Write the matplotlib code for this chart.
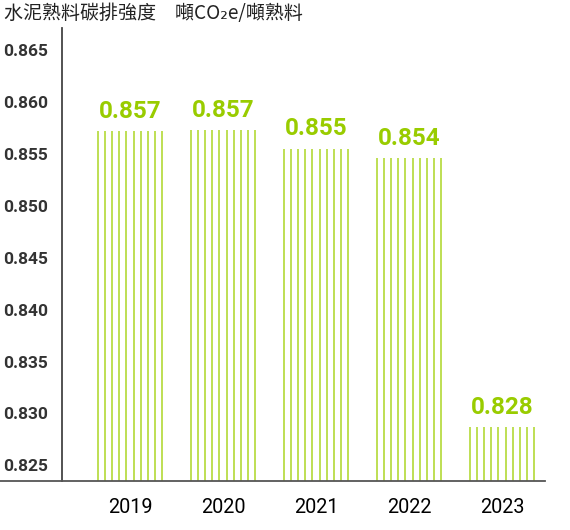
import numpy as np
import matplotlib.pyplot as plt
from matplotlib.lines import Line2D

years = ['2019', '2020', '2021', '2022', '2023']
bar_top = [0.8572, 0.8573, 0.8555, 0.8546, 0.8287]
label_text = ['0.857', '0.857', '0.855', '0.854', '0.828']
yticks = [0.825, 0.830, 0.835, 0.840, 0.845, 0.850, 0.855, 0.860, 0.865]

line_green = '#b9dc45'
text_green = '#99cc00'
dark = '#333333'

fig = plt.figure(figsize=(5.7, 5.3), dpi=100)
ax = fig.add_axes([62/570, 49/530, 483/570, 453/530])

ybase = 0.8235
n_lines = 10
bar_w = 0.69
x = np.arange(len(years))
for i, v in enumerate(bar_top):
    xs = np.linspace(x[i] - bar_w/2, x[i] + bar_w/2, n_lines)
    ax.vlines(xs, ybase, v, color=line_green, lw=1.3)
    ax.text(x[i], v + 0.0008, label_text[i], ha='center', va='bottom',
            color=text_green, fontsize=17.5, fontweight='bold', family='Roboto')

ax.set_xlim(-0.731, 4.462)
ax.set_ylim(ybase, 0.8671)
ax.set_xticks(x)
ax.set_xticklabels(years, fontsize=14.3, family='Roboto', color='black')
ax.set_yticks(yticks)
ax.set_yticklabels(['%.3f' % t for t in yticks], fontsize=12.5, family='Roboto',
                   fontweight='bold', color=dark)
ax.tick_params(axis='both', length=0)
ax.tick_params(axis='y', pad=10)
ax.tick_params(axis='x', pad=12)

for s in ['top', 'right']:
    ax.spines[s].set_visible(False)
ax.spines['left'].set_color('#444444')
ax.spines['bottom'].set_color('#555555')
ax.spines['left'].set_linewidth(1.3)
ax.spines['bottom'].set_linewidth(1.3)

# bottom rule runs to the left edge of the figure
fig.add_artist(Line2D([0, 62/570], [49/530, 49/530], color='#555555', lw=1.3,
                      transform=fig.transFigure))

fig.text(4/570, 1 - 14/530, '水泥熟料碳排強度\u3000噸CO₂e/噸熟料', ha='left', va='center',
         fontsize=13.7, color='#222222', family=['Noto Sans CJK TC', 'DejaVu Sans'])

fig.savefig('out.png', dpi=100)
